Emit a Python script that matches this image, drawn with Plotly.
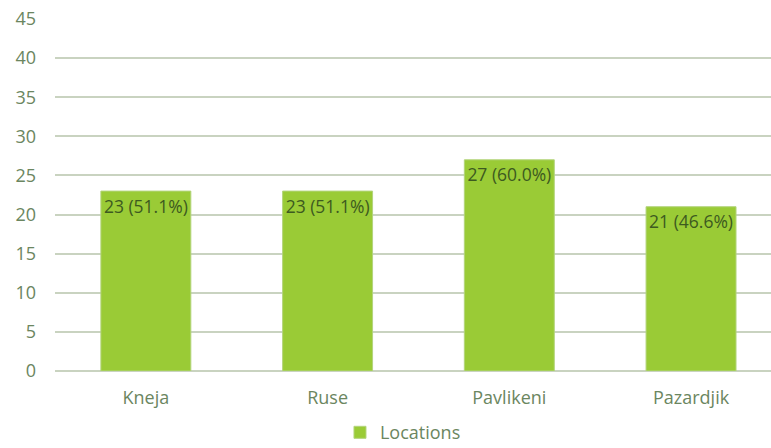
import plotly.graph_objects as go

categories = ["Kneja", "Ruse", "Pavlikeni", "Pazardjik"]
values = [23, 23, 27, 21]
percents = ["51.1%", "51.1%", "60.0%", "46.6%"]
series_name = "Locations"
y_ticks = [0, 5, 10, 15, 20, 25, 30, 35, 40, 45]

labels = [f"{v} ({p})" for v, p in zip(values, percents)]

tick_color = "#6b8660"
grid_color = "#c9d3c0"

fig = go.Figure()
fig.add_trace(go.Bar(
    x=categories, y=values, name=series_name,
    text=labels, textposition="inside", insidetextanchor="end",
    textangle=0,
    textfont=dict(family="Open Sans", size=18, color="#3d5a20"),
    marker=dict(color="#9acb36", line=dict(color="#b3d47c", width=1)),
    width=0.495,
))

fig.update_layout(
    width=771, height=448,
    margin=dict(l=55, r=0, t=19, b=77, autoexpand=False),
    plot_bgcolor="white", paper_bgcolor="white",
    font=dict(family="Open Sans", size=18, color=tick_color),
    showlegend=True,
    legend=dict(orientation="h", x=0.486, xanchor="center", y=-0.175, yanchor="middle",
                font=dict(size=18, color=tick_color)),
)
fig.update_xaxes(range=[-0.5, 3.44], showgrid=False, showline=False, ticks="",
                 ticklabelstandoff=14, tickfont=dict(size=18, color=tick_color))
fig.update_yaxes(range=[0, 45], tickvals=y_ticks, showgrid=True, gridcolor=grid_color,
                 gridwidth=2, zeroline=True, zerolinecolor=grid_color, zerolinewidth=2,
                 showline=False, ticks="", ticklabelstandoff=18,
                 tickfont=dict(size=18, color=tick_color))

fig.write_html("out.html")
